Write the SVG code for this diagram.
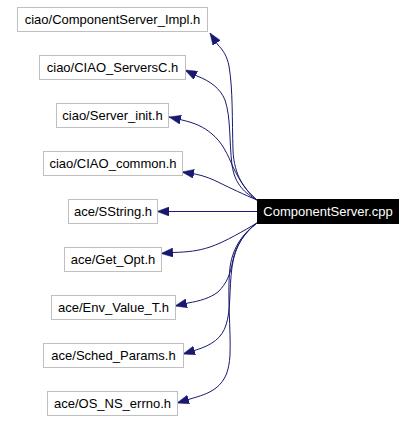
<svg xmlns="http://www.w3.org/2000/svg" width="416" height="422" viewBox="0 0 416 422">
<defs>
<style>
.box{fill:#fff;stroke:#bfbfbf;stroke-width:1}
.main{fill:#000;stroke:#000;stroke-width:1}
.lbl{font-family:"Liberation Sans",Arial,sans-serif;font-size:13px;text-anchor:middle;fill:#000}
.mlbl{font-family:"Liberation Sans",Arial,sans-serif;font-size:13px;text-anchor:middle;fill:#fff}
.edge{fill:none;stroke:#191970;stroke-width:1;marker-end:url(#arr)}
</style>
<marker id="arr" markerUnits="userSpaceOnUse" viewBox="0 0 12 9" markerWidth="12" markerHeight="9" refX="12" refY="4.5" orient="auto">
<path d="M0,0 L12,4.5 L0,9 z" fill="#191970" stroke="#191970" stroke-width="0.5"/>
</marker>
</defs>
<rect width="416" height="422" fill="#fff"/>
<g id="edges">
<path class="edge" d="M257,200 C245,190 234,176 233,150 C232,120 233,90 229,66 C227,56 223,50 218,45 L210,33"/>
<path class="edge" d="M257,200 C245,193 235,185 232,165 C229,140 231,118 225,100 C220,88 210,81 197,76 L185,70"/>
<path class="edge" d="M257,200 C249,194 240,182 233,167 C228,155 222,142 212,134 C204,127 195,123 182,120 L169,117"/>
<path class="edge" d="M257,200 C245,195 230,188 220,183 C212,179 205,176 195,174 L182,172"/>
<path class="edge" d="M257,211.5 L157,211.5"/>
<path class="edge" d="M257,223 C245,230 225,242 210,247 C198,251 188,252 173,252.5 L161,253.5"/>
<path class="edge" d="M257,223 C245,232 236,245 233,260 C230,275 227,283 218,292 C210,298 200,301 188,303 L175,306"/>
<path class="edge" d="M257,223 C245,232 235,245 232,267 C229,290 231,310 226,325 C222,338 212,345 196,350 L183,354"/>
<path class="edge" d="M257,223 C245,232 233,245 230,267 C227,295 231,330 230,355 C229,370 226,380 216,388 C208,394 200,396 190,399 L177,403"/>
</g>
<g id="node-main">
<rect class="main" x="257.5" y="199.5" width="141" height="24"/>
<text class="mlbl" x="328" y="216">ComponentServer.cpp</text>
</g>
<g id="node1">
<rect class="box" x="17.5" y="7.5" width="190" height="24"/>
<text class="lbl" x="112.5" y="24">ciao/ComponentServer_Impl.h</text>
</g>
<g id="node2">
<rect class="box" x="39.5" y="55.5" width="146" height="24"/>
<text class="lbl" x="112.5" y="72">ciao/CIAO_ServersC.h</text>
</g>
<g id="node3">
<rect class="box" x="56.5" y="103.5" width="112" height="24"/>
<text class="lbl" x="112.5" y="120">ciao/Server_init.h</text>
</g>
<g id="node4">
<rect class="box" x="43.5" y="151.5" width="139" height="24"/>
<text class="lbl" x="113" y="168">ciao/CIAO_common.h</text>
</g>
<g id="node5">
<rect class="box" x="68.5" y="199.5" width="89" height="24"/>
<text class="lbl" x="113" y="216">ace/SString.h</text>
</g>
<g id="node6">
<rect class="box" x="64.5" y="247.5" width="97" height="24"/>
<text class="lbl" x="113" y="264">ace/Get_Opt.h</text>
</g>
<g id="node7">
<rect class="box" x="51.5" y="295.5" width="124" height="24"/>
<text class="lbl" x="113.5" y="312">ace/Env_Value_T.h</text>
</g>
<g id="node8">
<rect class="box" x="43.5" y="343.5" width="140" height="24"/>
<text class="lbl" x="113.5" y="360">ace/Sched_Params.h</text>
</g>
<g id="node9">
<rect class="box" x="47.5" y="391.5" width="130" height="24"/>
<text class="lbl" x="112.5" y="408">ace/OS_NS_errno.h</text>
</g>
</svg>
